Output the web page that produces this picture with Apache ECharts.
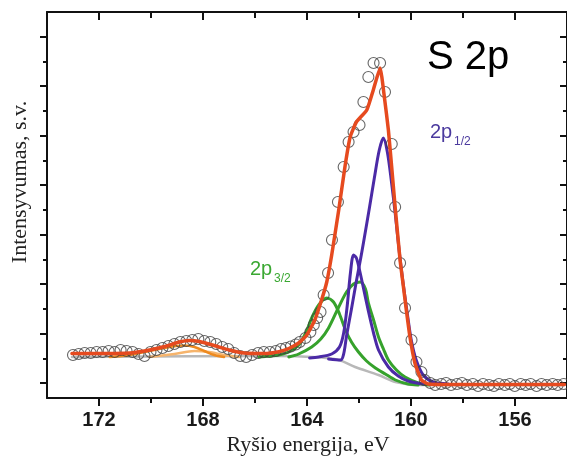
<!DOCTYPE html>
<html><head><meta charset="utf-8">
<script src="https://cdn.jsdelivr.net/npm/echarts@6/dist/echarts.min.js"></script>
<style>html,body{margin:0;padding:0;background:#fff}#c{width:567px;height:460px}</style>
</head><body><div id="c"></div>
<script>
// ---- data: [binding energy eV, intensity a.u.] ----
const measured = [
 [173.00,28],[172.78,29],[172.55,30],[172.32,30],[172.09,31],[171.86,31],[171.63,32],[171.40,31],
 [171.17,33],[170.94,32],[170.71,31],[170.48,29],[170.25,27],[170.02,31],[169.79,33],[169.56,35],
 [169.33,37],[169.10,39],[168.87,41],[168.64,42],[168.41,43],[168.18,44],[167.95,42],[167.72,41],
 [167.49,39],[167.26,36],[167.03,34],[166.80,30],[166.57,27],[166.34,26],[166.11,28],[165.88,30],
 [165.66,31],[165.43,31],[165.20,32],
 [165.00,34],[164.81,35],[164.62,36.5],[164.43,38.5],[164.28,41],[164.06,45],[163.87,51],[163.74,58],
 [163.61,65],[163.48,71],[163.36,88],[163.19,110],[163.04,143],[162.81,181],[162.59,216],[162.40,241],
 [162.21,251],[161.98,258],[161.83,281],[161.64,306],[161.44,320],[161.19,320],[161.00,291],[160.74,239],
 [160.61,176],[160.42,120],[160.23,75],[159.98,43],[159.79,21],[159.60,11],[159.47,3],
 [159.26,0],[159.07,-2],[158.84,-1],[158.65,0],[158.46,-2],[158.23,-1],[158.04,0],[157.85,-2],
 [157.62,-1],[157.42,-3],[157.23,-1],[157.00,-2],[156.81,-3],[156.62,-1],[156.39,-2],[156.20,-1],
 [156.01,-3],[155.78,-1],[155.59,-2],[155.40,-1],[155.17,-3],[154.98,-1],[154.78,-2],[154.55,-1],
 [154.36,-2],[154.13,-1]
];
const envelope = [
 [173.04,29.5],[171.97,29.5],[170.82,30],[170.06,33],[169.48,36.5],[168.91,41],[168.53,42.5],[168.14,41.5],
 [167.57,37.5],[167.00,33],[166.42,30],[165.66,29.5],[165.08,31.3],[164.70,34.5],[164.32,40],[164.01,48],
 [163.70,63],[163.44,83],[163.24,101],[163.05,128],[162.78,173],[162.53,218],[162.34,246],[162.10,261],
 [161.70,273],[161.45,293],[161.19,315],[161.02,285],[160.87,253],[160.74,215],[160.61,176],[160.42,123],
 [160.30,98],[160.18,73],[160.04,46],[159.85,20],[159.60,3],[159.34,-1],[158.57,-1.5],[154.10,-1.5]
];
const background = [
 [173.04,26],[165.08,27],[163.82,26],[162.78,23],[162.15,16],[161.25,8],[160.60,1],[159.72,-2],[154.10,-2]
];
const orangeA = [
 [171.59,26],[170.82,28],[170.06,32],[169.29,36],[168.72,37.5],[168.33,36],[167.95,32],[167.57,28],[167.19,26]
];
const orangeB = [
 [170.06,26],[169.10,29],[168.33,32],[167.76,31],[167.19,28],[166.61,26]
];
const green1 = [
 [165.85,26],[165.08,28],[164.70,31],[164.32,38],[164.05,50],[163.82,65],[163.55,78],[163.24,85],
 [162.98,81],[162.75,69],[162.52,53],[162.29,41],[162.02,31],[161.71,22],[161.37,15],[160.99,9],
 [160.60,3],[160.11,-1],[159.72,-2]
];
const green2 = [
 [164.70,26],[164.32,29],[163.82,36],[163.47,44],[163.17,55],[162.78,76],[162.48,91],[162.21,99],
 [161.95,101],[161.75,94],[161.64,80],[161.44,63],[161.25,46],[161.06,34],[160.87,23],[160.56,13],
 [160.23,6],[159.72,0],[159.34,-2]
];
const purpleSmall = [
 [163.90,25],[163.55,26],[163.05,29],[162.75,36],[162.59,50],[162.45,78],[162.33,110],[162.21,128],
 [162.10,125],[161.98,113],[161.83,95],[161.64,72],[161.44,50],[161.25,33],[160.87,16],[160.49,7],
 [160.11,2],[159.53,-1]
];
const purpleBig = [
 [163.17,24],[162.71,23],[162.59,29],[162.48,47],[162.29,74],[162.10,102],[161.94,124],[161.83,140],
 [161.60,175],[161.41,205],[161.22,233],[161.06,245],[160.91,231],[160.76,203],[160.60,168],[160.45,131],
 [160.30,99],[160.14,69],[159.99,43],[159.80,23],[159.53,8],[159.15,1],[158.57,-1]
];
// ---- axis ticks ----
const xMajorTicks = [156,160,164,168,172];
const xMinorTicks = [158,162,166,170];
const yMajorTicks = [0,49.5,99,148.5,198,247.5,297,346.5];
const yMinorTicks = [24.75,74.25,123.75,173.25,222.75,272.25,321.75];

const X_MIN = 154, X_MAX = 174, Y_MIN = -15, Y_MAX = 371;
const BLACK = '#111';
const gridBox = {left:47, right:-2.5, top:12, bottom:62};

function xAx(gi, pos, ticks, len, inside, showLine, labels){
  return {
    type:'value', gridIndex:gi, position:pos, min:X_MIN, max:X_MAX, inverse:true,
    axisLine:{show:showLine, onZero:false, lineStyle:{color:BLACK, width:2}},
    axisTick:{show:true, customValues:ticks, length:len, inside:inside, lineStyle:{color:BLACK, width:2}},
    axisLabel: labels ? {show:true, customValues:ticks, margin:12, color:'#1a1a1a',
        fontFamily:'Liberation Sans, Arial, sans-serif', fontWeight:'bold', fontSize:20} : {show:false},
    splitLine:{show:false}
  };
}
function yAx(gi, pos, ticks, len, inside, showLine){
  return {
    type:'value', gridIndex:gi, position:pos, min:Y_MIN, max:Y_MAX,
    axisLine:{show:showLine, onZero:false, lineStyle:{color:BLACK, width:2}},
    axisTick:{show:true, customValues:ticks, length:len, inside:inside, lineStyle:{color:BLACK, width:2}},
    axisLabel:{show:false}, splitLine:{show:false}
  };
}
function line(data, color, width, z, smooth){
  return {type:'line', data:data, xAxisIndex:0, yAxisIndex:0, showSymbol:false, symbol:'none',
    smooth:smooth, z:z, lineStyle:{color:color, width:width, cap:'round', join:'round'}, itemStyle:{color:color}, silent:true, animation:false};
}

const chart = echarts.init(document.getElementById('c'), null, {renderer:'canvas'});
chart.setOption({
  animation:false,
  backgroundColor:'#fff',
  grid:[Object.assign({}, gridBox), Object.assign({}, gridBox)],
  xAxis:[
    xAx(0,'bottom',xMajorTicks,8,false,true,true),
    xAx(0,'top',xMajorTicks,8,true,true,false),
    xAx(1,'bottom',xMinorTicks,5,false,false,false),
    xAx(1,'top',xMinorTicks,6,true,false,false)
  ],
  yAxis:[
    yAx(0,'left',yMajorTicks,7,false,true),
    yAx(0,'right',yMajorTicks,7,true,true),
    yAx(1,'left',yMinorTicks,4,false,false),
    yAx(1,'right',yMinorTicks,4,true,false)
  ],
  series:[
    line(background,'#b8b8b8',2.5,1,0.3),
    line(orangeB,'#f6b46c',2.5,2,0.3),
    line(orangeA,'#ee8a1f',2.5,2,0.3),
    line(green1,'#36a22c',3,3,0.3),
    line(green2,'#36a22c',3,3,0.3),
    line(purpleSmall,'#4b2aa6',3,3,0.3),
    line(purpleBig,'#4b2aa6',3,3,0.3),
    {type:'scatter', data:measured, xAxisIndex:0, yAxisIndex:0, symbol:'circle', symbolSize:11, z:4,
     itemStyle:{color:'rgba(0,0,0,0)', borderColor:'#404040', borderWidth:1.1}, silent:true, animation:false},
    line(envelope,'#e64a1f',3.5,5,0.15)
  ],
  graphic:[
    {type:'text', left:427, top:38, z:10, style:{text:'S 2p', fontFamily:'Liberation Sans, Arial, sans-serif', fontSize:40, fill:'#000'}},
    {type:'text', left:430, top:122, z:10, style:{text:'2p', fontFamily:'Liberation Sans, Arial, sans-serif', fontSize:20, fill:'#4b3a9e'}},
    {type:'text', left:454, top:136, z:10, style:{text:'1/2', fontFamily:'Liberation Sans, Arial, sans-serif', fontSize:12, fill:'#4b3a9e'}},
    {type:'text', left:250, top:259, z:10, style:{text:'2p', fontFamily:'Liberation Sans, Arial, sans-serif', fontSize:20, fill:'#3aa832'}},
    {type:'text', left:274, top:273, z:10, style:{text:'3/2', fontFamily:'Liberation Sans, Arial, sans-serif', fontSize:12, fill:'#3aa832'}},
    {type:'text', x:308, y:445, z:10, style:{text:'Ryšio energija, eV', fontFamily:'Liberation Serif, Times New Roman, serif', fontSize:22, fill:'#222', align:'center', verticalAlign:'middle'}},
    {type:'text', x:20, y:182, rotation:Math.PI/2, z:10, style:{text:'Intensyvumas, s.v.', fontFamily:'Liberation Serif, Times New Roman, serif', fontSize:22, fill:'#222', align:'center', verticalAlign:'middle'}}
  ]
});
</script></body></html>
